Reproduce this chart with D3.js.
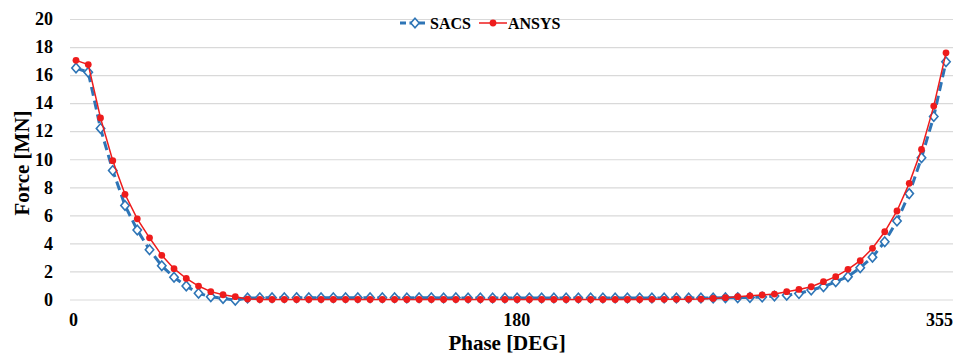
<!DOCTYPE html>
<html>
<head>
<meta charset="utf-8">
<script src="https://cdn.jsdelivr.net/npm/d3@7"></script>
<style>
  body { margin: 0; background: #fff; }
  svg text { font-family: "Liberation Serif", "Times New Roman", serif; font-weight: bold; fill: #000; }
</style>
</head>
<body>
<svg id="chart" width="969" height="361"></svg>
<script>
// phase angle in degrees, one point every 5 deg
const phases = [
  0, 5, 10, 15, 20, 25, 30, 35, 40, 45, 50, 55, 60, 65, 70, 75, 80, 85,
  90, 95, 100, 105, 110, 115, 120, 125, 130, 135, 140, 145, 150, 155, 160, 165, 170, 175,
  180, 185, 190, 195, 200, 205, 210, 215, 220, 225, 230, 235, 240, 245, 250, 255, 260, 265,
  270, 275, 280, 285, 290, 295, 300, 305, 310, 315, 320, 325, 330, 335, 340, 345, 350, 355
];

// force in MN
const sacs = [
  16.5, 16.2, 12.2, 9.2, 6.7, 4.95, 3.55, 2.4, 1.58, 0.96, 0.44, 0.2, 0.08, -0.05, 0.1, 0.12, 0.12, 0.12,
  0.13, 0.12, 0.12, 0.12, 0.12, 0.12, 0.12, 0.12, 0.12, 0.11, 0.12, 0.12, 0.11, 0.12, 0.11, 0.11, 0.1, 0.1,
  0.1, 0.1, 0.1, 0.1, 0.1, 0.1, 0.1, 0.1, 0.1, 0.1, 0.1, 0.1, 0.1, 0.1, 0.1, 0.1, 0.11, 0.12,
  0.13, 0.15, 0.18, 0.25, 0.3, 0.42, 0.68, 0.91, 1.26, 1.63, 2.27, 3.02, 4.12, 5.6, 7.55, 10.1, 13.05, 16.95
];
const ansys = [
  17.05, 16.75, 12.95, 9.9, 7.5, 5.75, 4.4, 3.15, 2.2, 1.5, 0.96, 0.56, 0.34, 0.2, 0.03, 0.0, 0.0, 0.0,
  0.0, 0.0, 0.0, 0.0, 0.0, 0.0, 0.0, 0.0, 0.0, 0.0, 0.0, 0.0, 0.0, 0.0, 0.0, 0.0, 0.0, 0.0,
  0.0, 0.0, 0.0, 0.0, 0.0, 0.0, 0.0, 0.0, 0.0, 0.0, 0.0, 0.01, 0.01, 0.02, 0.02, 0.03, 0.08, 0.13,
  0.2, 0.26, 0.32, 0.39, 0.56, 0.72, 0.91, 1.27, 1.63, 2.15, 2.77, 3.65, 4.83, 6.31, 8.28, 10.7, 13.79, 17.59
];

const yTicks = [0, 2, 4, 6, 8, 10, 12, 14, 16, 18, 20];
const xTicks = [0, 180, 355];

const seriesNames = ["SACS", "ANSYS"];
const blue = "#2e75b6";
const red = "#ee1c1c";

const svg = d3.select("#chart");

const x = d3.scaleLinear().domain([0, 355]).range([76, 946]);
const y = d3.scaleLinear().domain([0, 20]).range([299.5, 19]);

// gridlines + y tick labels
const gridLeft = 70, gridRight = 953;
const yAxis = svg.append("g")
    .attr("transform", "translate(" + gridLeft + ",0)")
    .call(d3.axisLeft(y)
        .tickValues(yTicks)
        .tickSizeInner(-(gridRight - gridLeft))
        .tickSizeOuter(0)
        .tickPadding(17)
    );
yAxis.select(".domain").remove();
yAxis.selectAll(".tick line").attr("stroke", "#d9d9d9").attr("stroke-width", 1.2);
yAxis.selectAll(".tick text").style("font-size", "18px");

// x tick labels
const xAxis = svg.append("g")
    .attr("transform", "translate(0," + y(0) + ")")
    .call(d3.axisBottom(x).tickValues(xTicks).tickSize(0).tickPadding(13.5));
xAxis.select(".domain").remove();
xAxis.selectAll(".tick text")
    .style("font-size", "18px")
    .attr("dx", d => d === 0 ? -3 : (d === 355 ? -7 : -1));

// axis titles
svg.append("text")
    .attr("x", 507).attr("y", 350)
    .attr("text-anchor", "middle")
    .style("font-size", "21px")
    .text("Phase [DEG]");

svg.append("text")
    .attr("transform", "translate(29,163) rotate(-90)")
    .attr("text-anchor", "middle")
    .style("font-size", "21px")
    .text("Force [MN]");

const line = d3.line()
    .x((d, i) => x(phases[i]))
    .y(d => y(d));

const diamond = "M0,-4.8L4.2,0L0,4.8L-4.2,0Z";

// SACS
svg.append("path")
    .datum(sacs)
    .attr("fill", "none")
    .attr("stroke", blue)
    .attr("stroke-width", 3)
    .attr("stroke-dasharray", "9,5")
    .attr("d", line);

svg.append("g").selectAll("path")
    .data(sacs)
    .join("path")
    .attr("transform", (d, i) => "translate(" + x(phases[i]) + "," + y(d) + ")")
    .attr("d", diamond)
    .attr("fill", "#fff")
    .attr("stroke", blue)
    .attr("stroke-width", 1.6);

// ANSYS
svg.append("path")
    .datum(ansys)
    .attr("fill", "none")
    .attr("stroke", red)
    .attr("stroke-width", 1.5)
    .attr("d", line);

svg.append("g").selectAll("circle")
    .data(ansys)
    .join("circle")
    .attr("cx", (d, i) => x(phases[i]))
    .attr("cy", d => y(d))
    .attr("r", 3.4)
    .attr("fill", red);

// legend
const legend = svg.append("g");
const leg1 = legend.append("g");
leg1.append("line")
    .attr("x1", 400).attr("x2", 428).attr("y1", 23).attr("y2", 23)
    .attr("stroke", blue).attr("stroke-width", 3).attr("stroke-dasharray", "6,3.5");
leg1.append("path")
    .attr("transform", "translate(415,23)")
    .attr("d", diamond)
    .attr("fill", "#fff").attr("stroke", blue).attr("stroke-width", 1.6);
leg1.append("text")
    .attr("x", 430).attr("y", 29)
    .style("font-size", "16px")
    .text(seriesNames[0]);

const leg2 = legend.append("g");
leg2.append("line")
    .attr("x1", 479).attr("x2", 507).attr("y1", 23).attr("y2", 23)
    .attr("stroke", red).attr("stroke-width", 1.5);
leg2.append("circle")
    .attr("cx", 493).attr("cy", 23).attr("r", 3.4)
    .attr("fill", red);
leg2.append("text")
    .attr("x", 508).attr("y", 29)
    .style("font-size", "16px")
    .text(seriesNames[1]);
</script>
</body>
</html>
